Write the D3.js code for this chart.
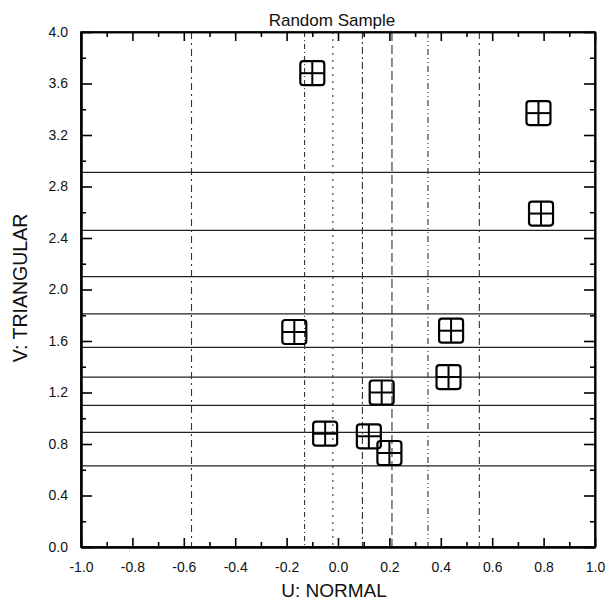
<!DOCTYPE html>
<html><head><meta charset="utf-8">
<script src="https://cdn.jsdelivr.net/npm/d3@7"></script>
<style>body{margin:0;background:#fff}svg{display:block}text{font-family:"Liberation Sans",Arial,sans-serif;fill:#111}</style>
</head><body><svg id="c" width="616" height="606"></svg>
<script>
const titleText = "Random Sample";
const xLabel = "U: NORMAL";
const yLabel = "V: TRIANGULAR";
const xTicks = [-1.0,-0.8,-0.6,-0.4,-0.2,0.0,0.2,0.4,0.6,0.8,1.0];
const xMinor = [-0.9,-0.7,-0.5,-0.3,-0.1,0.1,0.3,0.5,0.7,0.9];
const yTicks = [0.0,0.4,0.8,1.2,1.6,2.0,2.4,2.8,3.2,3.6,4.0];
const yMinor = [0.2,0.6,1.0,1.4,1.8,2.2,2.6,3.0,3.4,3.8];
const uValues = [-0.10, 0.78, 0.79, -0.17, 0.44, 0.43, 0.17, -0.05, 0.12, 0.20];
const vValues = [3.68, 3.37, 2.59, 1.67, 1.68, 1.32, 1.20, 0.88, 0.86, 0.73];
const hLines = [2.91, 2.46, 2.10, 1.81, 1.55, 1.32, 1.10, 0.89, 0.63];
const vLines = [-0.57, -0.13, -0.02, 0.095, 0.21, 0.35, 0.55];
const vDash = ["7,4,2,4","5,3,1,3","2,5","7,3,2,3","9,4","6,3,1,3,1,3","7,4,2,4"];

const L=81,R=595,T=32,B=547;
const svg=d3.select("#c");
const x=d3.scaleLinear().domain([-1,1]).range([L,R]);
const y=d3.scaleLinear().domain([0,4]).range([B,T]);
const fmt=d=>d.toFixed(1);

// horizontal lines
svg.append("g").selectAll("line").data(hLines).join("line")
  .attr("x1",L).attr("x2",R).attr("y1",d=>y(d)).attr("y2",d=>y(d))
  .attr("stroke","#222").attr("stroke-width",1.2);
// vertical dash-dot lines
svg.append("g").selectAll("line").data(vLines).join("line")
  .attr("x1",d=>x(d)).attr("x2",d=>x(d)).attr("y1",T).attr("y2",B)
  .attr("stroke","#333").attr("stroke-width",1.1)
  .attr("stroke-dasharray",(d,i)=>vDash[i]);

// frame
svg.append("rect").attr("x",L).attr("y",T).attr("width",R-L).attr("height",B-T)
  .attr("fill","none").attr("stroke","#000").attr("stroke-width",1.6);

function styleAxis(g){g.select(".domain").attr("stroke","#000").attr("stroke-width",2);
  g.selectAll(".tick line").attr("stroke","#000").attr("stroke-width",1.6);
  g.selectAll("text").style("font-size","14px").attr("fill","#111");}
// bottom
svg.append("g").attr("transform",`translate(0,${B})`)
  .call(d3.axisBottom(x).tickValues(xTicks).tickFormat(fmt).tickSize(-9).tickSizeOuter(0).tickPadding(15)).call(styleAxis);
svg.append("g").attr("transform",`translate(0,${B})`)
  .call(d3.axisBottom(x).tickValues(xMinor).tickFormat("").tickSize(-5).tickSizeOuter(0)).call(styleAxis);
// top
svg.append("g").attr("transform",`translate(0,${T})`)
  .call(d3.axisTop(x).tickValues(xTicks).tickFormat("").tickSize(-9).tickSizeOuter(0)).call(styleAxis)
  .select(".domain").attr("stroke-width",1.6);
svg.append("g").attr("transform",`translate(0,${T})`)
  .call(d3.axisTop(x).tickValues(xMinor).tickFormat("").tickSize(-5).tickSizeOuter(0)).call(styleAxis)
  .select(".domain").attr("stroke-width",1.6);
// left
svg.append("g").attr("transform",`translate(${L},0)`)
  .call(d3.axisLeft(y).tickValues(yTicks).tickFormat(fmt).tickSize(-11).tickSizeOuter(0).tickPadding(13)).call(styleAxis);
svg.append("g").attr("transform",`translate(${L},0)`)
  .call(d3.axisLeft(y).tickValues(yMinor).tickFormat("").tickSize(-5).tickSizeOuter(0)).call(styleAxis);
// right
svg.append("g").attr("transform",`translate(${R},0)`)
  .call(d3.axisRight(y).tickValues(yTicks).tickFormat("").tickSize(-11).tickSizeOuter(0)).call(styleAxis)
  .select(".domain").attr("stroke-width",1.6);
svg.append("g").attr("transform",`translate(${R},0)`)
  .call(d3.axisRight(y).tickValues(yMinor).tickFormat("").tickSize(-5).tickSizeOuter(0)).call(styleAxis)
  .select(".domain").attr("stroke-width",1.6);

// markers
const pts=uValues.map((u,i)=>({u,v:vValues[i]}));
const s=24,h=s/2;
const mg=svg.append("g").selectAll("g").data(pts).join("g")
  .attr("transform",d=>`translate(${x(d.u)},${y(d.v)})`);
mg.append("rect").attr("x",-h).attr("y",-h).attr("width",s).attr("height",s).attr("rx",3)
  .attr("fill","none").attr("stroke","#000").attr("stroke-width",2.2);
mg.append("line").attr("x1",-h).attr("x2",h).attr("y1",0).attr("y2",0).attr("stroke","#000").attr("stroke-width",2);
mg.append("line").attr("y1",-h).attr("y2",h).attr("x1",0).attr("x2",0).attr("stroke","#000").attr("stroke-width",2);

// titles
svg.append("text").attr("x",332).attr("y",26).attr("text-anchor","middle")
  .style("font-size","17px").text(titleText);
svg.append("text").attr("x",334).attr("y",597).attr("text-anchor","middle")
  .style("font-size","19px").text(xLabel);
svg.append("text").attr("transform","translate(27,288) rotate(-90)").attr("text-anchor","middle")
  .style("font-size","19.5px").text(yLabel);
</script></body></html>
